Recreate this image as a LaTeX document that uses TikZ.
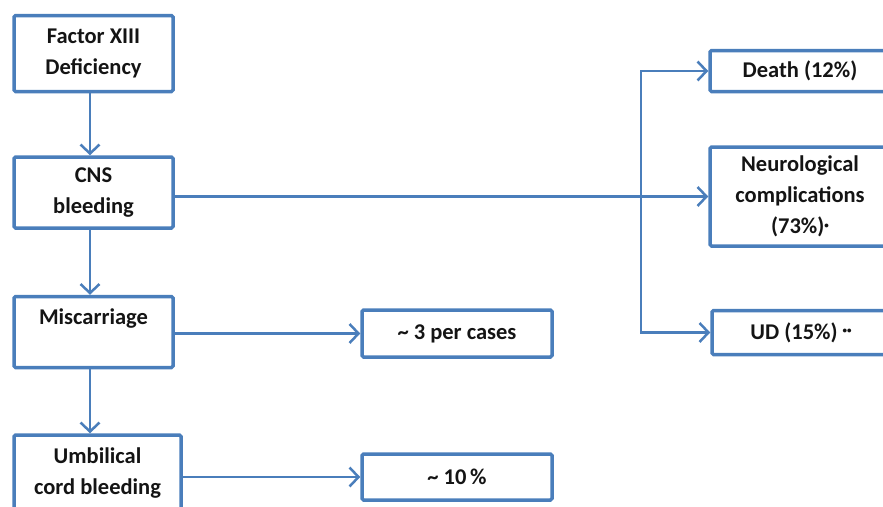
\documentclass[tikz,border=0pt]{standalone}
\usepackage{fontspec}
\setmainfont{Carlito}
\usetikzlibrary{arrows.meta}
\definecolor{bl}{RGB}{74,126,187}
\definecolor{tx}{RGB}{20,20,20}
\begin{document}
\begin{tikzpicture}[x=1pt,y=-1pt,
  box/.style={draw=bl, line width=3.5pt, rounded corners=1.5pt, align=center, inner sep=0pt,
    text=tx, font=\bfseries\fontsize{22.5}{31}\selectfont},
  arr/.style={draw=bl, line width=2.5pt, -{Straight Barb[length=9pt,width=19pt,line width=2.5pt]}}]
\useasboundingbox (0,0) rectangle (883,506);
\clip (0,0) rectangle (883,506);
\node[box, minimum width=159pt, minimum height=76pt] (fac) at (93.5,53.5) {Factor XIII\\Deficiency};
\node[box, minimum width=159pt, minimum height=71pt] (cns) at (93.5,192.5) {CNS\\bleeding};
\node[box, minimum width=159pt, minimum height=71pt] (mis) at (93.5,332) {Miscarriage\\\mbox{}};
\node[box, minimum width=167pt, minimum height=76pt] (umb) at (97.5,473) {Umbilical\\cord bleeding};
\node[box, minimum width=190pt, minimum height=47pt] (three) at (457,333.5) {\textasciitilde\ 3 per cases};
\node[box, minimum width=190pt, minimum height=46pt] (ten) at (457,477) {\textasciitilde\ 10\,\%};
\node[box, minimum width=180pt, minimum height=41pt] (death) at (800,71) {Death (12\%)};
\node[box, minimum width=180pt, minimum height=99pt] (neu) at (800,196.5) {Neurological\\complications\\(73\%)\raisebox{0.5ex}{\small •}};
\node[box, minimum width=178pt, minimum height=44pt] (ud) at (801,332.5) {UD (15\%) \raisebox{0.5ex}{\small ••}};
\coordinate (col) at (90,0);
\coordinate (br) at (641,196.5);
\draw[arr] (fac.south -| col) -- (cns.north -| col);
\draw[arr] (cns.south -| col) -- (mis.north -| col);
\draw[arr] (mis.south -| col) -- (umb.north -| col);
\draw[arr] (cns.east |- neu.west) -- (neu.west);
\draw[arr] (br) |- (death.west);
\draw[arr] (br) |- (ud.west);
\draw[arr] (mis.east |- three.west) -- (three.west);
\draw[arr] (umb.east |- ten.west) -- (ten.west);
\end{tikzpicture}
\end{document}
